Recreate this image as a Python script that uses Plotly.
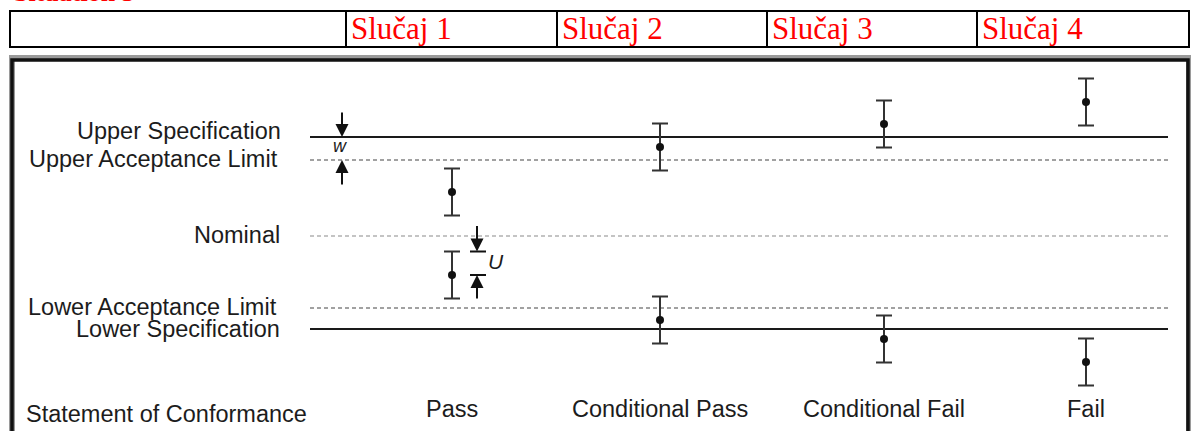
import plotly.graph_objects as go

# ---------------- data ----------------
cases = ["Slučaj 1", "Slučaj 2", "Slučaj 3", "Slučaj 4"]
statements = ["Pass", "Conditional Pass", "Conditional Fail", "Fail"]
upper_results = [4.4, 8.9, 11.2, 13.4]
lower_results = [-3.9, -8.4, -10.3, -12.6]
uncertainty = 2.35
limit_names = ["Upper Specification", "Upper Acceptance Limit", "Nominal",
               "Lower Acceptance Limit", "Lower Specification"]
limit_values = [9.9, 7.6, 0.0, -7.2, -9.3]
statement_title = "Statement of Conformance"
page_heading = "Situation 3"

# ---------------- layout constants ----------------
W, H = 1191, 431
Y_TOP, Y_BOT = 23.6, -19.5          # y axis range (value units)
case_x = [452, 660, 884, 1086]      # horizontal positions (px) of each case
line_x0, line_x1 = 310, 1168
label_right = [282, 279, 281, 278, 281]
label_shift = [6, 1, 1, 1, 0]
limit_styles = [
    dict(color="#1a1a1a", width=2, dash="solid"),
    dict(color="#444444", width=1.2, dash="4px,3px"),
    dict(color="#8a8a8a", width=1.2, dash="4px,3px"),
    dict(color="#444444", width=1.2, dash="4px,3px"),
    dict(color="#1a1a1a", width=2, dash="solid"),
]
col_edges = [10, 346, 557, 767, 977, 1189]
SANS = "Liberation Sans, Arial, sans-serif"
SERIF = "Liberation Serif, Times New Roman, serif"
TXT = "#1c1c1c"
FS = 23.5


def py(p):
    """pixel row -> paper y"""
    return 1 - p / H


def vy(p):
    """pixel row -> y value (for label placement only)"""
    return Y_TOP - (Y_TOP - Y_BOT) * p / H


fig = go.Figure()

# limit lines
for name, val, st in zip(limit_names, limit_values, limit_styles):
    fig.add_trace(go.Scatter(x=[line_x0, line_x1], y=[val, val], mode="lines",
                             line=st, hoverinfo="skip", showlegend=False))

# measurement results with uncertainty bars
fig.add_trace(go.Scatter(
    x=case_x + case_x, y=upper_results + lower_results, mode="markers",
    marker=dict(size=8, color="#111111"),
    error_y=dict(type="constant", value=uncertainty, width=8, thickness=2, color="#333333"),
    showlegend=False))

ann = []
# limit labels
for name, val, xr, sh in zip(limit_names, limit_values, label_right, label_shift):
    ann.append(dict(x=xr, y=val, xref="x", yref="y", text=name, showarrow=False,
                    xanchor="right", yanchor="middle", yshift=sh, borderpad=0,
                    font=dict(family=SANS, size=FS, color=TXT)))

# statements
for xc, s in zip(case_x, statements):
    ann.append(dict(x=xc, y=vy(409), xref="x", yref="y", text=s, showarrow=False,
                    xanchor="center", yanchor="middle",
                    font=dict(family=SANS, size=FS, color=TXT)))
ann.append(dict(x=24, y=vy(414), xref="x", yref="y", text=statement_title, showarrow=False,
                xanchor="left", yanchor="middle", font=dict(family=SANS, size=FS, color=TXT)))

# guard band w arrows
arrow_common = dict(xref="x", yref="y", axref="pixel", ayref="pixel", text="",
                    showarrow=True, arrowhead=2, arrowsize=1.3, arrowwidth=2,
                    arrowcolor="#111111", standoff=0)
ann.append(dict(x=342, y=limit_values[0], ax=0, ay=-26, **arrow_common))
ann.append(dict(x=342, y=limit_values[1], ax=0, ay=26, **arrow_common))
ann.append(dict(x=340, y=(limit_values[0] + limit_values[1]) / 2, xref="x", yref="y",
                text="<i>w</i>", showarrow=False, yshift=3,
                font=dict(family=SANS, size=18, color=TXT)))

# uncertainty U arrows
u_top = lower_results[0] + uncertainty
u_mid = lower_results[0]
ann.append(dict(x=477, y=u_top, ax=0, ay=-27, **arrow_common))
ann.append(dict(x=477, y=u_mid, ax=0, ay=25, **arrow_common))
ann.append(dict(x=486, y=(u_top + u_mid) / 2, xref="x", yref="y", text="<i>U</i>",
                showarrow=False, xanchor="left", yshift=2,
                font=dict(family=SANS, size=21, color=TXT)))

# table header texts
for i, c in enumerate(cases):
    ann.append(dict(x=(col_edges[i + 1] + 3) / W, y=py(28.5), xref="paper", yref="paper",
                    text=c, showarrow=False, xanchor="left", yanchor="middle",
                    font=dict(family=SERIF, size=31, color="#ff0000")))
ann.append(dict(x=12 / W, y=py(8.7), xref="paper", yref="paper", text="<b>" + page_heading + "</b>",
                showarrow=False, xanchor="left", yanchor="bottom",
                font=dict(family=SERIF, size=26, color="#ff0000")))

shapes = []
# U tick marks
for yv in (u_top, u_mid):
    shapes.append(dict(type="line", xref="x", yref="y", x0=470, x1=486, y0=yv, y1=yv,
                       line=dict(color="#111111", width=2)))
# table
shapes.append(dict(type="rect", xref="paper", yref="paper", x0=col_edges[0] / W, x1=col_edges[-1] / W,
                   y0=py(47), y1=py(11), line=dict(color="black", width=2)))
for e in col_edges[1:-1]:
    shapes.append(dict(type="line", xref="paper", yref="paper", x0=e / W, x1=e / W,
                       y0=py(47), y1=py(11), line=dict(color="black", width=2)))
# chart frame (shadow + border)
shapes.append(dict(type="rect", xref="paper", yref="paper", x0=12 / W, x1=1189 / W,
                   y0=py(470), y1=py(58), line=dict(color="#9a9a9a", width=6)))
shapes.append(dict(type="rect", xref="paper", yref="paper", x0=12 / W, x1=1188 / W,
                   y0=py(470), y1=py(60), line=dict(color="#111111", width=3.5)))

fig.update_layout(
    width=W, height=H, margin=dict(l=0, r=0, t=0, b=0),
    paper_bgcolor="white", plot_bgcolor="white",
    xaxis=dict(range=[0, W], visible=False, fixedrange=True),
    yaxis=dict(range=[Y_BOT, Y_TOP], visible=False, fixedrange=True),
    annotations=ann, shapes=shapes, showlegend=False,
)

fig.write_html("out.html", config={"displayModeBar": False},
               post_script="document.body.style.margin='0';document.body.style.overflow='hidden';")
